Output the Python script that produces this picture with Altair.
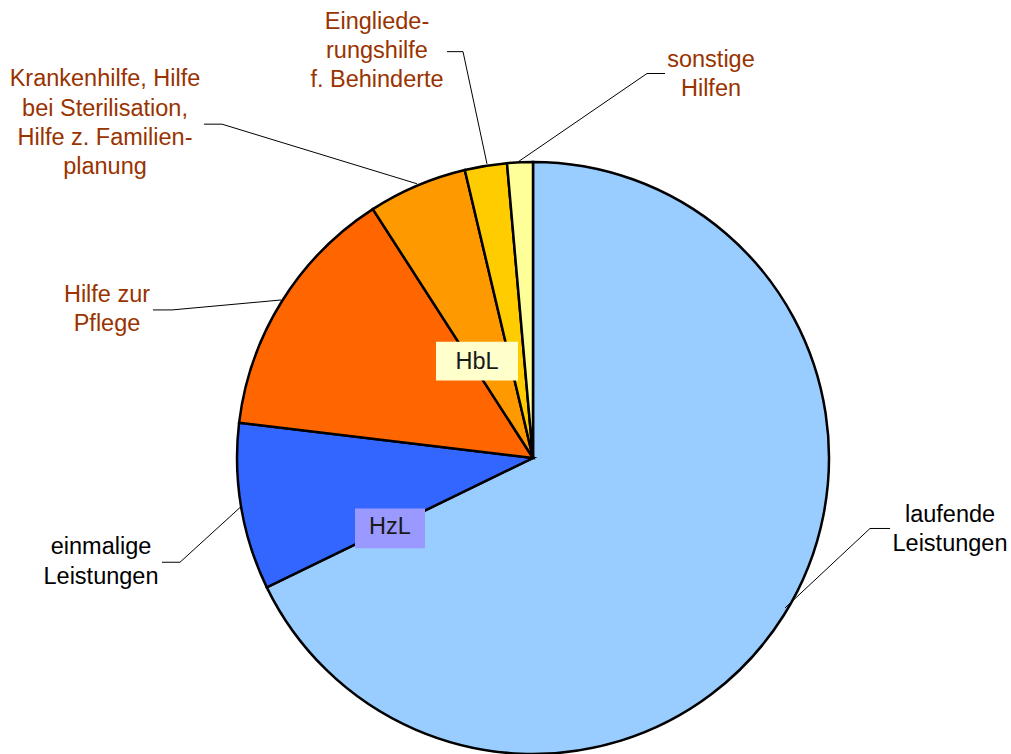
import altair as alt
import pandas as pd

# --- data ---
categories = ["laufende Leistungen", "einmalige Leistungen", "Hilfe zur Pflege",
              "Krankenhilfe", "Eingliederungshilfe", "sonstige Hilfen"]
values = [67.8, 9.1, 14.0, 5.4, 2.3, 1.4]
slice_colors = ["#99CCFF", "#3366FF", "#FF6600", "#FF9900", "#FFCC00", "#FFFF99"]

label_lines = [
    ["laufende", "Leistungen"],
    ["einmalige", "Leistungen"],
    ["Hilfe zur", "Pflege"],
    ["Krankenhilfe, Hilfe", "bei Sterilisation,", "Hilfe z. Familien-", "planung"],
    ["Eingliede-", "rungshilfe", "f. Behinderte"],
    ["sonstige", "Hilfen"],
]
label_colors = ["#000000", "#000000", "#993300", "#993300", "#993300", "#993300"]

# label / annotation layout (pixel space of the 1011x754 view)
label_x = [950, 101, 107, 105, 377, 711]
label_y0 = [525, 558, 304, 87, 29, 67]
line_step = 29.5
leader_x = [[785, 870, 890], [241, 180, 162], [281, 172, 153],
            [417, 222, 204], [487, 463, 447], [518, 647, 665]]
leader_y = [[612, 532, 532], [510, 566, 566], [302, 312, 312],
            [185, 125, 125], [165, 52, 52], [163, 74, 74]]

group_names = ["HbL", "HzL"]
group_box_x = [436, 355]
group_box_x2 = [518, 425]
group_box_y = [344, 512]
group_box_y2 = [383, 552]
group_fill = ["#FFFFCC", "#9999FF"]
group_text_y = [371, 538]

W, H = 1011, 754
CX, CY, R = 533, 458, 296
FONT = "Liberation Sans"
FS = 23.5

# --- tables ---
pie_df = pd.DataFrame({"cat": categories, "value": values, "order": list(range(len(values)))})

rows = []
for i, lines in enumerate(label_lines):
    for j, t in enumerate(lines):
        rows.append({"text": t, "x": label_x[i], "y": label_y0[i] + j * line_step,
                     "color": label_colors[i]})
lab_df = pd.DataFrame(rows)

lrows = []
for i in range(len(leader_x)):
    for k in range(len(leader_x[i])):
        lrows.append({"id": i, "k": k, "x": leader_x[i][k], "y": leader_y[i][k]})
lead_df = pd.DataFrame(lrows)

box_df = pd.DataFrame({"name": group_names, "x": group_box_x, "x2": group_box_x2,
                       "y": group_box_y, "y2": group_box_y2, "fill": group_fill,
                       "tx": [(a + b) / 2 for a, b in zip(group_box_x, group_box_x2)],
                       "ty": group_text_y})

xs = alt.Scale(domain=[0, W], nice=False, zero=False)
ys = alt.Scale(domain=[0, H], nice=False, zero=False, reverse=True)

pie = alt.Chart(pie_df).mark_arc(radius=R, stroke="black", strokeWidth=2.5).encode(
    theta=alt.Theta("value:Q", stack=True),
    color=alt.Color("cat:N", scale=alt.Scale(domain=categories, range=slice_colors), legend=None),
    order=alt.Order("order:Q"),
    x=alt.value(CX),
    y=alt.value(CY),
)

leaders = alt.Chart(lead_df).mark_line(color="black", strokeWidth=1).encode(
    x=alt.X("x:Q", scale=xs, axis=None),
    y=alt.Y("y:Q", scale=ys, axis=None),
    detail="id:N",
    order="k:Q",
)

labels = alt.Chart(lab_df).mark_text(font=FONT, fontSize=FS, align="center",
                                     baseline="alphabetic").encode(
    x=alt.X("x:Q", scale=xs, axis=None),
    y=alt.Y("y:Q", scale=ys, axis=None),
    text="text:N",
    color=alt.Color("color:N", scale=None),
)

boxes = alt.Chart(box_df).mark_rect().encode(
    x=alt.X("x:Q", scale=xs, axis=None), x2="x2:Q",
    y=alt.Y("y:Q", scale=ys, axis=None), y2="y2:Q",
    fill=alt.Fill("fill:N", scale=None),
)

box_text = alt.Chart(box_df).mark_text(font=FONT, fontSize=FS, align="center",
                                       baseline="alphabetic", color="#1a1a1a").encode(
    x=alt.X("tx:Q", scale=xs, axis=None),
    y=alt.Y("ty:Q", scale=ys, axis=None),
    text="name:N",
)

chart = alt.layer(pie, leaders, labels, boxes, box_text).properties(
    width=W, height=H, padding=0,
    autosize=alt.AutoSizeParams(type="fit", contains="padding"),
).configure_view(strokeWidth=0).resolve_scale(color="independent")

chart.save("out.html", embed_options={"renderer": "svg", "actions": False})
